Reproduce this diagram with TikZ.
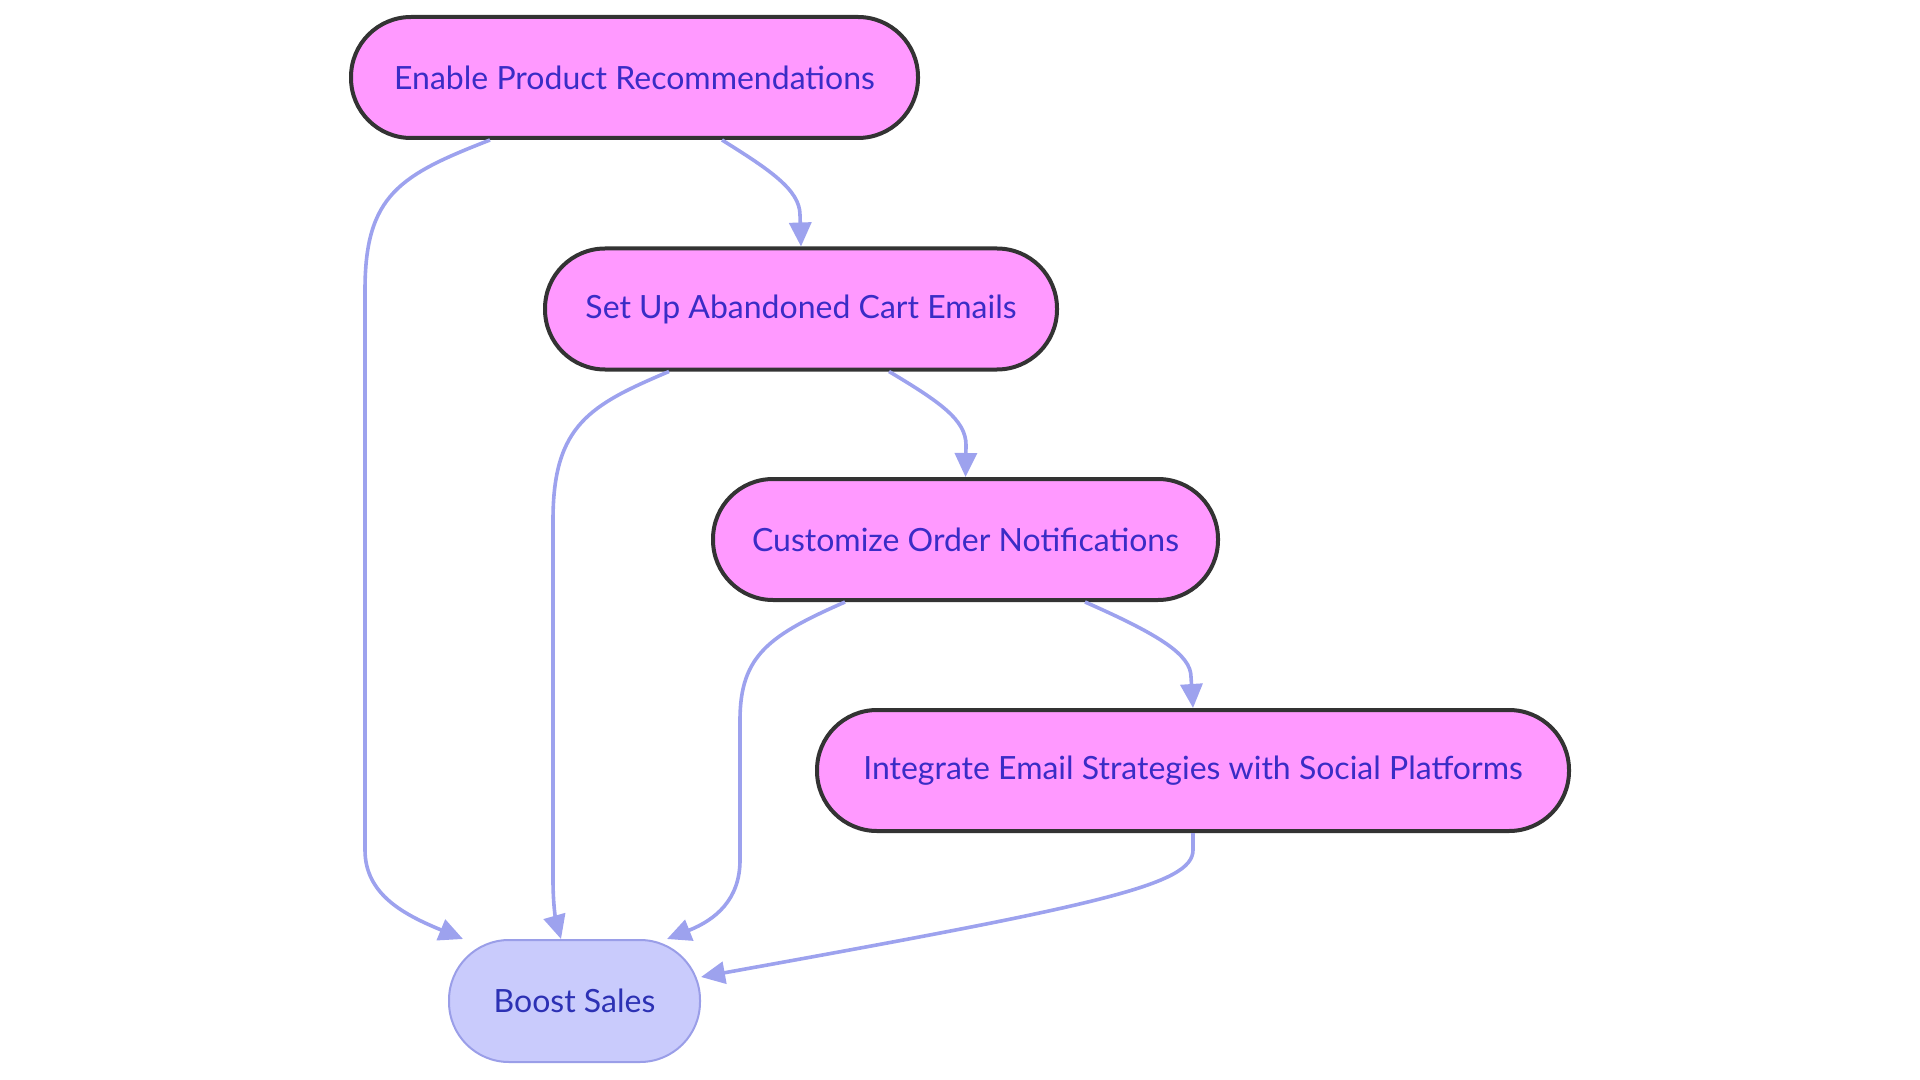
\documentclass[tikz,border=0pt]{standalone}
\usepackage{fontspec}
\setmainfont{Lato}
\usepackage{xcolor}
\usetikzlibrary{arrows.meta}
\definecolor{pinkfill}{HTML}{FF99FF}
\definecolor{pinkline}{HTML}{333333}
\definecolor{pinktext}{HTML}{3A2CC6}
\definecolor{salesfill}{HTML}{C9CBFC}
\definecolor{salesline}{HTML}{9A9EE8}
\definecolor{salestext}{HTML}{2C31B4}
\definecolor{flowline}{HTML}{9DA2EE}

\begin{document}
\begin{tikzpicture}[x=0.5pt,y=-0.5pt]
\tikzset{every node/.style={font=\fontsize{16}{19}\selectfont}}
\tikzset{stepnode/.style={draw=pinkline,fill=pinkfill,text=pinktext,line width=2pt,rounded corners=30pt,minimum height=60.5pt,inner sep=0pt}}
\tikzset{goalnode/.style={draw=salesline,fill=salesfill,text=salestext,line width=1pt,rounded corners=30pt,minimum height=61pt,minimum width=125.5pt,inner sep=0pt}}
\tikzset{flow/.style={draw=flowline,line width=1.8pt,-{Triangle[length=12pt,width=11pt]}}}
\useasboundingbox (0,0) rectangle (1920,1080);
\node[stepnode,minimum width=283.5pt] (recs) at (634.5,77.5) {Enable Product Recommendations};
\node[stepnode,minimum width=256pt] (cart) at (801,309) {Set Up Abandoned Cart Emails};
\node[stepnode,minimum width=252.5pt] (notif) at (965.5,539.5) {Customize Order Notifications};
\node[stepnode,minimum width=376pt] (social) at (1193,770.5) {Integrate Email Strategies with Social Platforms};
\node[goalnode] (sales) at (574.5,1001) {Boost Sales};
\draw[flow] ([xshift=-72.25pt]recs.south) .. controls (400,175) and (365,195) .. (365,290) -- (365,850) .. controls (365,895) and (405,915) .. ([xshift=-55.75pt]sales.north);
\draw[flow] ([xshift=43.75pt]recs.south) .. controls (770,170) and (800,190) .. (800,215) -- (cart.north);
\draw[flow] ([xshift=-66pt]cart.south) .. controls (590,405) and (553,425) .. (553,520) -- (553,880) .. controls (553,910) and (557,925) .. ([xshift=-6.75pt]sales.north);
\draw[flow] ([xshift=44pt]cart.south) .. controls (940,402) and (966,420) .. (966,445) -- (notif.north);
\draw[flow] ([xshift=-60.25pt]notif.south) .. controls (770,635) and (740,655) .. (740,720) -- (740,860) .. controls (740,900) and (715,920) .. ([xshift=46.25pt]sales.north);
\draw[flow] ([xshift=59.75pt]notif.south) .. controls (1160,635) and (1191,655) .. (1191,677) -- (social.north);
\draw[flow] (social.south) -- (1193,850) .. controls (1193,885) and (1100,905) .. ([yshift=12pt]sales.east);
\end{tikzpicture}
\end{document}
